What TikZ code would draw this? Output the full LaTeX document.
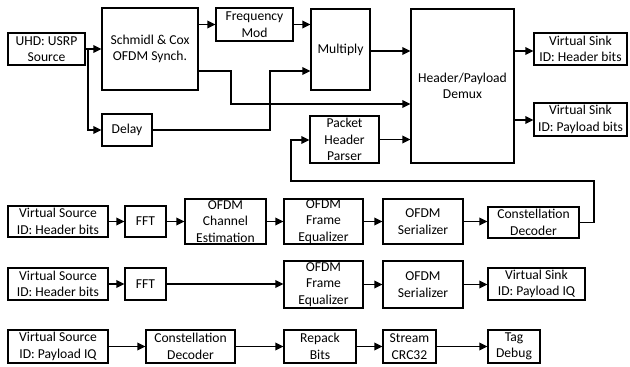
\documentclass[tikz,border=0pt]{standalone}
\usepackage{fontspec}
\setmainfont{Carlito}
\usetikzlibrary{arrows.meta}
\begin{document}
\begin{tikzpicture}[x=1pt,y=-1pt,
  blk/.style={draw=black, line width=1.2pt, fill=white, align=center, inner sep=0pt,
    font=\fontsize{13.6}{16.4}\selectfont},
  wire/.style={line width=1.8pt, -{Triangle[length=8pt,width=7.5pt]}}]
\useasboundingbox (0,0) rectangle (630,367);
% receiver front end
\node[blk, minimum width=77pt, minimum height=32pt] (uhd) at (46.5,49) {UHD: USRP\\Source};
\node[blk, minimum width=96pt, minimum height=82pt] (sync) at (150,49) {Schmidl \& Cox\\OFDM Synch.};
\node[blk, minimum width=77pt, minimum height=33pt] (fmod) at (254.5,24.5) {Frequency\\Mod};
\node[blk, minimum width=50pt, minimum height=32pt] (delay) at (127,130) {Delay};
\node[blk, minimum width=59pt, minimum height=81pt] (mult) at (340.5,49.5) {Multiply};
\node[blk, minimum width=103pt, minimum height=154pt] (demux) at (462.5,86) {Header/Payload\\Demux};
\node[blk, minimum width=69pt, minimum height=47pt] (php) at (344.5,139.5) {Packet\\Header\\Parser};
\node[blk, minimum width=93pt, minimum height=32pt] (sinkh) at (580.5,49) {Virtual Sink\\ID: Header bits};
\node[blk, minimum width=93pt, minimum height=33pt] (sinkp) at (580.5,119.5) {Virtual Sink\\ID: Payload bits};
% header chain
\node[blk, minimum width=100pt, minimum height=31pt] (srch) at (58,221.5) {Virtual Source\\ID: Header bits};
\node[blk, minimum width=41pt, minimum height=31pt] (ffta) at (145.5,221.5) {FFT};
\node[blk, minimum width=81pt, minimum height=45pt] (chest) at (225.5,221.5) {OFDM\\Channel\\Estimation};
\node[blk, minimum width=79pt, minimum height=45pt] (eqa) at (323.5,221.5) {OFDM\\Frame\\Equalizer};
\node[blk, minimum width=80pt, minimum height=45pt] (sera) at (423,221.5) {OFDM\\Serializer};
\node[blk, minimum width=91pt, minimum height=31pt] (cda) at (533.5,222.5) {Constellation\\Decoder};
% payload chain
\node[blk, minimum width=100pt, minimum height=32pt] (srcp) at (58,284) {Virtual Source\\ID: Header bits};
\node[blk, minimum width=41pt, minimum height=32pt] (fftb) at (145.5,284) {FFT};
\node[blk, minimum width=79pt, minimum height=47pt] (eqb) at (323.5,284.5) {OFDM\\Frame\\Equalizer};
\node[blk, minimum width=80pt, minimum height=47pt] (serb) at (423,284.5) {OFDM\\Serializer};
\node[blk, minimum width=97pt, minimum height=32pt] (sinkiq) at (536.5,284) {Virtual Sink\\ID: Payload IQ};
% payload decoding chain
\node[blk, minimum width=100pt, minimum height=33pt] (srciq) at (58,346.5) {Virtual Source\\ID: Payload IQ};
\node[blk, minimum width=89pt, minimum height=33pt] (cdb) at (190.5,346.5) {Constellation\\Decoder};
\node[blk, minimum width=72pt, minimum height=33pt] (repack) at (320,346.5) {Repack\\Bits};
\node[blk, minimum width=53pt, minimum height=33pt] (crc) at (409.5,346.5) {Stream\\CRC32};
\node[blk, minimum width=52pt, minimum height=33pt] (tag) at (514,346.5) {Tag\\Debug};
% front-end connections
\coordinate (split) at (88,49);
\draw[wire] (uhd.east) -- (sync.west);
\draw[wire] (split) |- (delay.west);
\draw[wire] (sync.east |- fmod.west) -- (fmod.west);
\draw[wire] (fmod.east) -- (mult.west |- fmod.east);
\draw[wire] (sync.east |- 0,71) -| (231,104) -- (demux.west |- 0,104);
\draw[wire] (delay.east) -| (270,71) -- (mult.west |- 0,71);
\draw[wire] (mult.east |- 0,51) -- (demux.west |- 0,51);
\draw[wire] (php.east) -- (demux.west |- php.east);
\draw[wire] (demux.east |- 0,51) -- (sinkh.west |- 0,51);
\draw[wire] (demux.east |- 0,120) -- (sinkp.west |- 0,120);
\draw[wire] (cda.east) -| (594,181) -| (291,140) -- (php.west |- 0,140);
% header chain connections
\draw[wire] (srch) -- (ffta);
\draw[wire] (ffta) -- (chest);
\draw[wire] (chest) -- (eqa);
\draw[wire] (eqa) -- (sera);
\draw[wire] (sera.east) -- (cda.west |- sera.east);
% payload chain connections
\draw[wire] (srcp) -- (fftb);
\draw[wire] (fftb.east) -- (eqb.west |- fftb.east);
\draw[wire] (eqb) -- (serb);
\draw[wire] (serb.east) -- (sinkiq.west |- serb.east);
% decoding chain connections
\draw[wire] (srciq) -- (cdb);
\draw[wire] (cdb) -- (repack);
\draw[wire] (repack) -- (crc);
\draw[wire] (crc) -- (tag);
\end{tikzpicture}
\end{document}
